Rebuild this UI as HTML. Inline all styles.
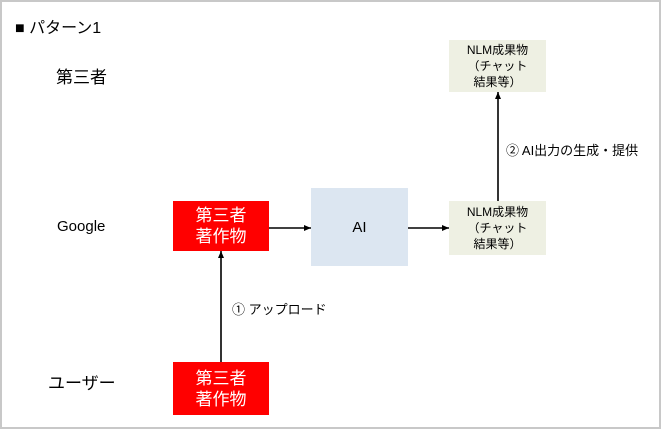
<!DOCTYPE html>
<html><head><meta charset="utf-8"><style>
body{margin:0;width:661px;height:429px;overflow:hidden;background:#fff;font-family:"Liberation Sans","Noto Sans CJK JP",sans-serif;}
.frame{position:absolute;left:0;top:0;width:657px;height:425px;border:2px solid #c8c8c8;}
.t{position:absolute;white-space:nowrap;color:#000;}
.box{position:absolute;display:flex;align-items:center;justify-content:center;text-align:center;}
.red{background:#ff0000;color:#fff;font-size:17px;line-height:21px;}
.grn{background:#eef0e3;font-size:12px;line-height:16px;color:#000;}
</style></head><body>
<div class="frame"></div>
<div class="t" style="left:15px;top:14px;font-size:16px;">■ パターン1</div>
<div class="t" style="left:56px;top:63px;font-size:17px;">第三者</div>
<div class="t" style="left:57px;top:218px;font-size:15px;">Google</div>
<div class="t" style="left:48px;top:369px;font-size:17px;">ユーザー</div>
<div class="box red" style="left:173px;top:201px;width:96px;height:50px;">第三者<br>著作物</div>
<div class="box red" style="left:173px;top:362px;width:96px;height:53px;">第三者<br>著作物</div>
<div class="box" style="left:311px;top:188px;width:97px;height:78px;background:#dce6f1;font-size:15px;">AI</div>
<div class="box grn" style="left:449px;top:40px;width:97px;height:52px;">NLM成果物<br>（チャット<br>結果等）</div>
<div class="box grn" style="left:449px;top:201px;width:97px;height:54px;">NLM成果物<br>（チャット<br>結果等）</div>
<div class="t" style="left:232px;top:299px;font-size:13px;">① アップロード</div>
<div class="t" style="left:506px;top:140px;font-size:13px;">② AI出力の生成・提供</div>
<svg width="661" height="429" style="position:absolute;left:0;top:0">
<defs><marker id="a" markerUnits="userSpaceOnUse" markerWidth="7" markerHeight="6" refX="7" refY="3" orient="auto"><path d="M0,0L7,3L0,6z" fill="#000"/></marker></defs>
<g stroke="#000" stroke-width="1.6" fill="none">
<line x1="269" y1="228" x2="311" y2="228" marker-end="url(#a)"/>
<line x1="408" y1="228" x2="449" y2="228" marker-end="url(#a)"/>
<line x1="498" y1="201" x2="498" y2="92" marker-end="url(#a)"/>
<line x1="221" y1="362" x2="221" y2="251" marker-end="url(#a)"/>
</g></svg>
</body></html>
